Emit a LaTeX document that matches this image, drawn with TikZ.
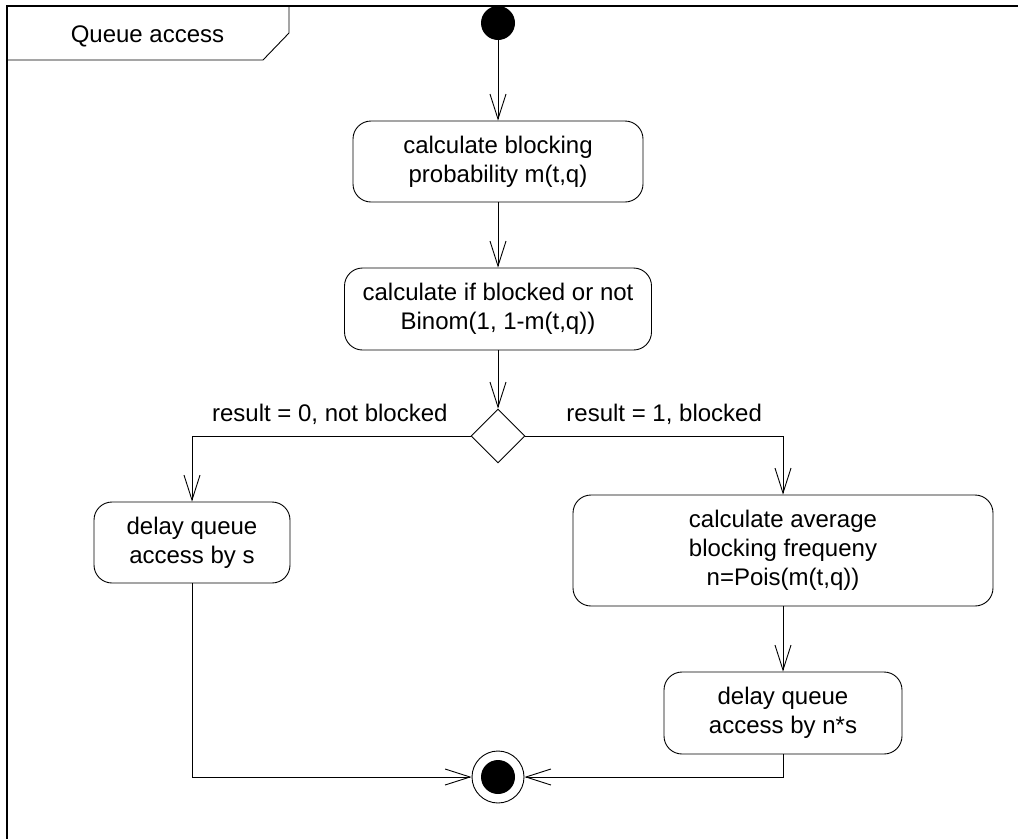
\documentclass[tikz,border=0pt]{standalone}
\usepackage{fontspec}
\setmainfont{Liberation Sans}
\usetikzlibrary{arrows.meta,shapes.geometric}

\tikzset{
  txt/.style={font=\fontsize{24}{29}\selectfont},
  act/.style={draw, rounded corners=18pt, align=center, inner sep=0pt,
              line width=0.9pt, txt},
  flow/.style={draw, line width=0.9pt,
               -{Straight Barb[length=25pt,width=16pt,line width=0.9pt]}},
  guard/.style={txt, inner sep=0pt},
}

\begin{document}
\begin{tikzpicture}[x=1pt, y=-1pt, line width=0.9pt]
  \useasboundingbox (0,0) rectangle (1018,839);

  % frame and its name tab
  \draw[line width=1.2pt] (1018,6) -- (7,6) -- (7,839);
  \draw (289,6) -- (289,33) -- (263,60) -- (7,60);
  \node[guard, anchor=base] (title) at (147.5,42) {Queue access};

  % initial node
  \node[circle, fill=black, minimum size=34pt, inner sep=0pt] (start) at (498,23) {};

  % actions
  \node[act, minimum width=290pt, minimum height=81pt] (b1) at (498,161.5)
    {calculate blocking\\probability m(t,q)};
  \node[act, minimum width=307pt, minimum height=82pt] (b2) at (498,309)
    {calculate if blocked or not\\Binom(1, 1-m(t,q))};
  \node[draw, diamond, minimum width=54pt, minimum height=54pt, inner sep=0pt] (d) at (498,436) {};
  \node[act, minimum width=196pt, minimum height=81pt] (b3) at (192,542.5)
    {delay queue\\access by s};
  \node[act, minimum width=420pt, minimum height=111pt] (b4) at (783,550.5)
    {calculate average\\blocking frequeny\\n=Pois(m(t,q))};
  \node[act, minimum width=238pt, minimum height=82pt] (b5) at (783,713)
    {delay queue\\access by n*s};

  % final node
  \node[circle, draw, minimum size=52pt, inner sep=0pt] (end) at (498,777) {};
  \node[circle, fill=black, minimum size=34pt, inner sep=0pt] (endin) at (end) {};

  % guards
  \node[guard, anchor=base east] (g0) at (448,421) {result = 0, not blocked};
  \node[guard, anchor=base west] (g1) at (566,421) {result = 1, blocked};

  % control flows
  \draw[flow] (start) -- (b1);
  \draw[flow] (b1) -- (b2);
  \draw[flow] (b2) -- (d);
  \draw[flow] (d.west) -| (b3.north);
  \draw[flow] (d.east) -| (b4.north);
  \draw[flow] (b4) -- (b5);
  \draw[flow] (b3.south) |- (end.west);
  \draw[flow] (b5.south) |- (end.east);
\end{tikzpicture}
\end{document}
